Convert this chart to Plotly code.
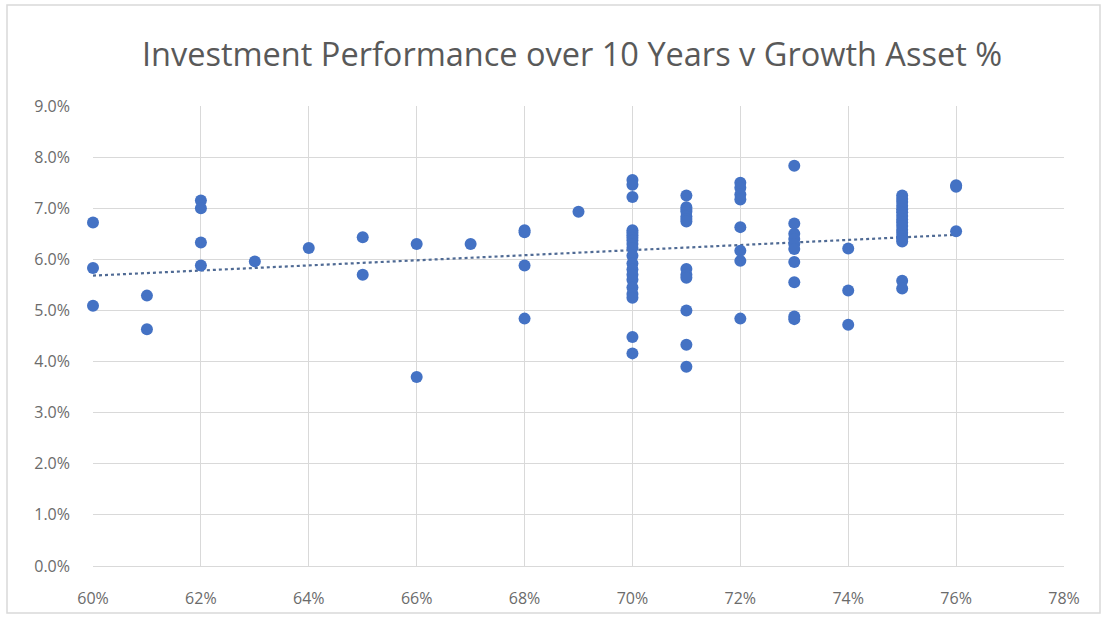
import numpy as np
import plotly.graph_objects as go

# Growth asset % (x) and 10-year investment performance % (y)
growth_60 = [6.72, 5.83, 5.09]
growth_61 = [5.29, 4.63]
growth_62 = [7.15, 7.0, 6.33, 5.88]
growth_63 = [5.96]
growth_64 = [6.22]
growth_65 = [6.43, 5.70]
growth_66 = [6.30, 3.70]
growth_67 = [6.30]
growth_68 = [6.57, 6.53, 5.88, 4.84]
growth_69 = [6.93]
growth_70 = [7.55, 7.46, 7.22, 6.57, 6.52, 6.47, 6.42, 6.37, 6.30, 6.22, 6.07, 5.92, 5.80,
             5.70, 5.60, 5.45, 5.32, 5.25, 4.48, 4.16]
growth_71 = [7.25, 7.02, 6.97, 6.93, 6.84, 6.79, 6.74, 5.81, 5.70, 5.64, 5.00, 4.33, 3.90]
growth_72 = [7.50, 7.40, 7.27, 7.17, 6.63, 6.17, 5.97, 4.84]
growth_73 = [7.83, 6.70, 6.50, 6.40, 6.30, 6.20, 5.95, 5.55, 4.88, 4.83]
growth_74 = [6.21, 5.39, 4.72]
growth_75 = [7.25, 7.18, 7.12, 7.05, 6.98, 6.92, 6.85, 6.78, 6.72, 6.65, 6.58, 6.52,
             6.45, 6.40, 6.35, 5.58, 5.43]
growth_76 = [7.45, 7.42, 6.55]

columns = {60: growth_60, 61: growth_61, 62: growth_62, 63: growth_63, 64: growth_64,
           65: growth_65, 66: growth_66, 67: growth_67, 68: growth_68, 69: growth_69,
           70: growth_70, 71: growth_71, 72: growth_72, 73: growth_73, 74: growth_74,
           75: growth_75, 76: growth_76}

x_vals = []
y_vals = []
for g, rets in columns.items():
    for r in rets:
        x_vals.append(g / 100)
        y_vals.append(r / 100)

x_arr = np.array(x_vals)
y_arr = np.array(y_vals)
slope, intercept = np.polyfit(x_arr, y_arr, 1)
trend_x = np.array([x_arr.min(), x_arr.max()])
trend_y = slope * trend_x + intercept

x_ticks = [0.60, 0.62, 0.64, 0.66, 0.68, 0.70, 0.72, 0.74, 0.76, 0.78]
y_ticks = [0.0, 0.01, 0.02, 0.03, 0.04, 0.05, 0.06, 0.07, 0.08, 0.09]

fig = go.Figure()
fig.add_trace(go.Scatter(
    x=trend_x, y=trend_y, mode="lines",
    line=dict(color="#4F6A94", width=2.2, dash="dot"),
    showlegend=False, hoverinfo="skip", cliponaxis=False))
fig.add_trace(go.Scatter(
    x=x_vals, y=y_vals, mode="markers",
    marker=dict(color="#4472C4", size=12, line=dict(width=0)),
    showlegend=False, hoverinfo="x+y", cliponaxis=False))

L, R, T, B = 93, 41, 106, 59
W, H = 1105, 625
pw, ph = W - L - R, H - T - B

tick_font = dict(family="Open Sans, sans-serif", size=16, color="#6b6b6b")

fig.update_layout(
    width=W, height=H,
    margin=dict(l=L, r=R, t=T, b=B),
    paper_bgcolor="white", plot_bgcolor="white",
    font=dict(family="Open Sans, Liberation Sans, sans-serif", color="#595959", size=14),
    title=dict(text="Investment Performance over 10 Years v Growth Asset %",
               x=572 / W, xanchor="center", y=1 - 55 / H, yanchor="middle",
               font=dict(size=32.5, color="#595959")),
    xaxis=dict(range=[0.60, 0.78], tickvals=x_ticks, tickformat=".0%",
               showgrid=True, gridcolor="#D9D9D9", gridwidth=1,
               zeroline=False, showline=True, linecolor="#D9D9D9", mirror=False,
               ticks="", ticklabelstandoff=18, tickfont=tick_font),
    yaxis=dict(range=[0.0, 0.09], tickvals=y_ticks, tickformat=".1%",
               showgrid=True, gridcolor="#D9D9D9", gridwidth=1,
               zeroline=False, showline=False, ticks="", ticklabelstandoff=22,
               tickfont=tick_font),
    shapes=[dict(type="rect", xref="paper", yref="paper",
                 x0=(7 - L) / pw, x1=(1100 - L) / pw,
                 y0=(H - B - 613) / ph, y1=(H - B - 5) / ph,
                 line=dict(color="#D9D9D9", width=1.5), fillcolor="rgba(0,0,0,0)",
                 layer="below")],
)

fig.write_html("out.html")
